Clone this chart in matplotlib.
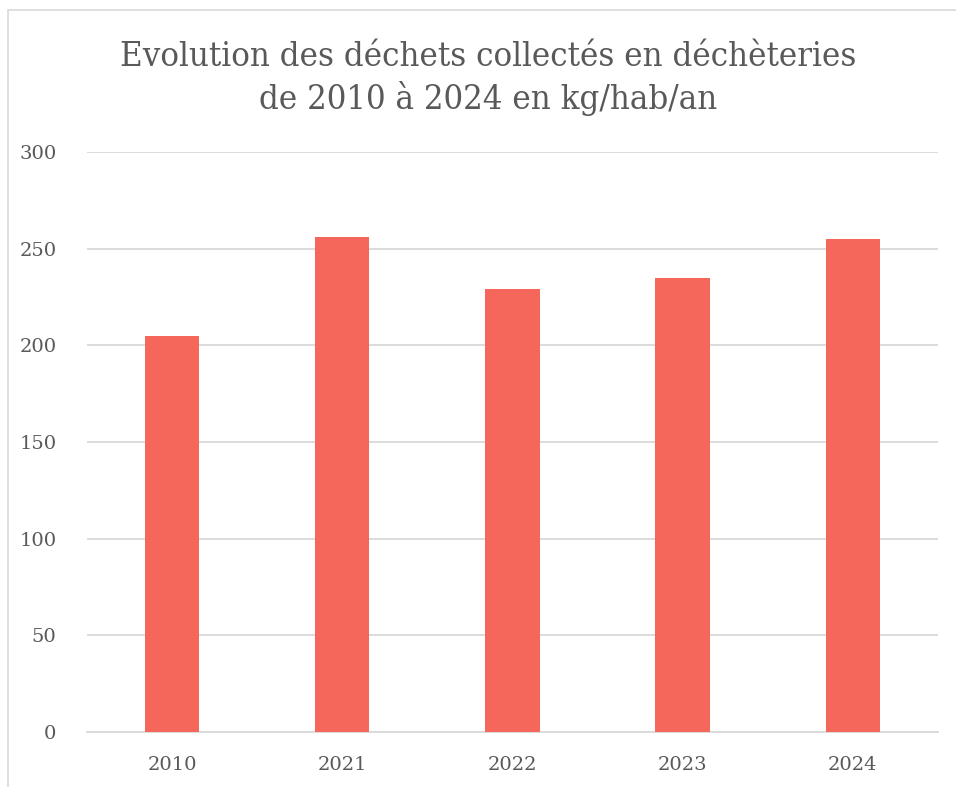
import matplotlib
matplotlib.use('Agg')
from matplotlib import pyplot as plt
from matplotlib.patches import Rectangle

annees = ['2010', '2021', '2022', '2023', '2024']
valeurs = [205, 256, 229, 235, 255]
titre = 'Evolution des déchets collectés en déchèteries\nde 2010 à 2024 en kg/hab/an'

plt.rcParams['font.family'] = ['DejaVu Serif']
gris = '#595959'

fig = plt.figure(figsize=(9.56, 7.87), dpi=100)
ax = fig.add_axes([0.091, 0.0699, 0.890, 0.737])

ax.bar(annees, valeurs, width=0.32, color='#F4675A', zorder=3)
ax.set_ylim(0, 300)
ax.set_xlim(-0.5, len(annees) - 0.5)
ax.set_yticks(range(0, 301, 50))
ax.grid(axis='y', color='#D9D9D9', linewidth=1.3, zorder=0)
for s in ['top', 'right', 'left']:
    ax.spines[s].set_visible(False)
ax.spines['bottom'].set_color('#D9D9D9')
ax.spines['bottom'].set_linewidth(1.3)
ax.tick_params(axis='both', length=0, labelsize=14, labelcolor=gris)
ax.tick_params(axis='y', pad=22)
ax.tick_params(axis='x', pad=17)

fig.text(0.511, 0.900, titre, ha='center', va='center', fontsize=24.8,
         color=gris, linespacing=1.3, fontstretch='condensed')

# cadre du graphique
fig.patches.append(Rectangle((8 / 956, -0.05), 1.1, 1 - 10 / 787 + 0.05,
                             transform=fig.transFigure, fill=False,
                             edgecolor='#D9D9D9', linewidth=1.2))

fig.savefig('out.png', dpi=100)
